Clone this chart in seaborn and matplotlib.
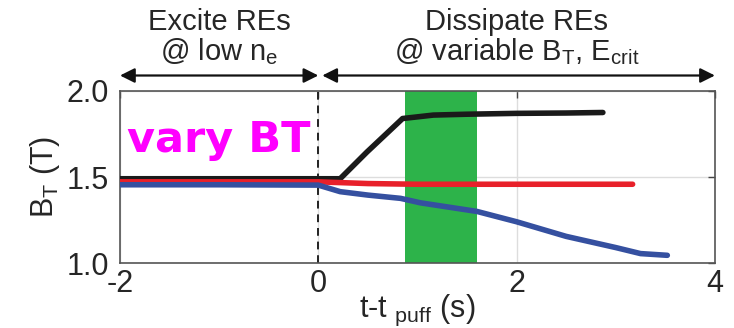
import matplotlib
matplotlib.use("Agg")
import matplotlib.pyplot as plt
import seaborn as sns
import pandas as pd

# values
black_t = [-2.0, -1.0, 0.0, 0.22, 0.49, 0.85, 1.16, 1.5, 2.0, 2.5, 2.87]
black_bt = [1.49, 1.49, 1.49, 1.49, 1.645, 1.84, 1.86, 1.865, 1.87, 1.872, 1.875]

red_t = [-2.0, -1.0, 0.0, 0.5, 1.0, 2.0, 3.17]
red_bt = [1.472, 1.472, 1.472, 1.462, 1.458, 1.458, 1.458]

blue_t = [-2.0, -1.0, 0.0, 0.22, 0.5, 0.83, 1.03, 1.6, 2.0, 2.5, 3.0, 3.25, 3.52]
blue_bt = [1.455, 1.455, 1.453, 1.415, 1.395, 1.376, 1.35, 1.30, 1.24, 1.155, 1.09, 1.055, 1.045]

shot_labels = ['high BT', 'flat BT', 'low BT']
shot_colors = ['#1a1a1a', '#e8202a', '#3550a0']

window = (0.87, 1.60)
x_ticks = [-2, 0, 2, 4]
y_ticks = [1.0, 1.5, 2.0]

df = pd.concat([
    pd.DataFrame({'t': black_t, 'BT': black_bt, 'shot': shot_labels[0]}),
    pd.DataFrame({'t': red_t, 'BT': red_bt, 'shot': shot_labels[1]}),
    pd.DataFrame({'t': blue_t, 'BT': blue_bt, 'shot': shot_labels[2]}),
], ignore_index=True)

sns.set_theme(style="white")
plt.rcParams['font.family'] = ['Liberation Sans', 'DejaVu Sans']
plt.rcParams['mathtext.default'] = 'regular'

fig = plt.figure(figsize=(7.34, 3.28), dpi=100)
ax = fig.add_axes([0.1635, 0.198, 0.8105, 0.5246])

ax.axvspan(window[0], window[1], color='#2db34a', lw=0, zorder=1)
ax.axvline(0, color='#222222', ls=(0, (4, 3)), lw=1.4, zorder=2)

sns.lineplot(data=df, x='t', y='BT', hue='shot', palette=shot_colors,
             estimator=None, sort=False, linewidth=4.0, legend=False,
             ax=ax, zorder=3)

ax.set_xlim(-2, 4)
ax.set_ylim(1.0, 2.0)
ax.set_xticks(x_ticks)
ax.set_yticks(y_ticks)
ax.set_xticklabels([str(v) for v in x_ticks])
ax.set_yticklabels([f'{v:.1f}' for v in y_ticks])
ax.grid(True, color='#dddddd', lw=1.0, zorder=0)
ax.set_axisbelow(True)
ax.tick_params(direction='in', length=5, width=1, color='#444444',
               top=True, right=True, labelsize=22)
ax.tick_params(axis='y', pad=8)
ax.tick_params(axis='x', pad=4)
for s in ax.spines.values():
    s.set_color('#555555')
    s.set_linewidth(1.2)

ax.set_xlabel('t-t $_{puff}$ (s)', fontsize=22, labelpad=-4)
ax.set_ylabel('B$_{T}$ (T)', fontsize=22, labelpad=3)

ax.text(-1.93, 1.715, 'vary BT', color='#ff00ff', fontsize=31,
        fontweight='bold', family='DejaVu Sans', va='center', ha='left')

# phase annotations above the axes
tr = ax.get_xaxis_transform()
arrow = dict(arrowstyle='<|-|>', color='#111111', lw=1.6,
             mutation_scale=22, shrinkA=0, shrinkB=0)
ax.annotate('', xy=(-2, 1.09), xytext=(0, 1.09), xycoords=tr,
            textcoords=tr, arrowprops=arrow, annotation_clip=False)
ax.annotate('', xy=(0.04, 1.09), xytext=(4, 1.09), xycoords=tr,
            textcoords=tr, arrowprops=arrow, annotation_clip=False)
ax.text(-1.0, 1.31, 'Excite REs\n@ low n$_{e}$', transform=tr,
        ha='center', va='center', fontsize=21, linespacing=1.0)
ax.text(2.0, 1.31, 'Dissipate REs\n@ variable B$_{T}$, E$_{crit}$',
        transform=tr, ha='center', va='center', fontsize=21,
        linespacing=1.0)

fig.savefig('out.png', dpi=100)
